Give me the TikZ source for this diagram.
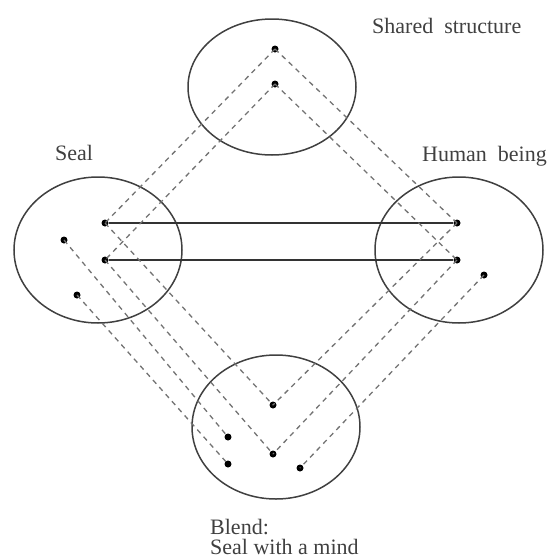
\documentclass[tikz,border=0pt]{standalone}
\usepackage{fontspec}
\setmainfont{Liberation Serif}
\begin{document}
\begin{tikzpicture}[x=1pt,y=-1pt,
  space/.style={draw=black!75,line width=1.5pt},
  pt/.style={circle,fill=black,inner sep=0pt,minimum size=7pt},
  dl/.style={dash pattern=on 5pt off 4.5pt,line width=1.3pt,black!55},
  sl/.style={line width=1.3pt,black!80},
  lab/.style={font=\fontsize{22}{21}\selectfont,text=black!75,inner sep=0pt}]
\useasboundingbox (0,0) rectangle (550,560);
% spaces
\draw[space] (272,87) ellipse (84 and 68);
\draw[space] (98,250) ellipse (84 and 73);
\draw[space] (459,250) ellipse (84 and 73);
\draw[space] (276,427) ellipse (84 and 72);
% points
\node[pt] (g1) at (275,49) {};
\node[pt] (g2) at (275,84) {};
\node[pt] (s1) at (105,223) {};
\node[pt] (s2) at (105,260) {};
\node[pt] (s3) at (64,240) {};
\node[pt] (s4) at (77,295) {};
\node[pt] (h1) at (457,223) {};
\node[pt] (h2) at (457,260) {};
\node[pt] (h3) at (484,275) {};
\node[pt] (b1) at (273,405) {};
\node[pt] (b2) at (273,454) {};
\node[pt] (b3) at (228,437) {};
\node[pt] (b4) at (228,464) {};
\node[pt] (b5) at (300,468) {};
% cross-space mapping
\draw[sl] (s1) -- (h1);
\draw[sl] (s2) -- (h2);
% dashed projections
\draw[dl] (g1.center) -- (s1.center);
\draw[dl] (g1.center) -- (h1.center);
\draw[dl] (g2.center) -- (s2.center);
\draw[dl] (g2.center) -- (h2.center);
\draw[dl] (s1.center) -- (b1.center);
\draw[dl] (h1.center) -- (b1.center);
\draw[dl] (s2.center) -- (b2.center);
\draw[dl] (h2.center) -- (b2.center);
\draw[dl] (s3.center) -- (b3.center);
\draw[dl] (s4.center) -- (b4.center);
\draw[dl] (h3.center) -- (b5.center);
% labels
\node[lab,anchor=base west] (tg) at (372,33) {Shared\ \ structure};
\node[lab,anchor=base west] (ts) at (55,160) {Seal};
\node[lab,anchor=base west] (th) at (422,161) {Human\ \ being};
\node[lab,anchor=base west] (tb) at (210,534) {Blend:};
\node[lab,anchor=base west] (tb2) at (210,554) {Seal with a mind};
\end{tikzpicture}
\end{document}
